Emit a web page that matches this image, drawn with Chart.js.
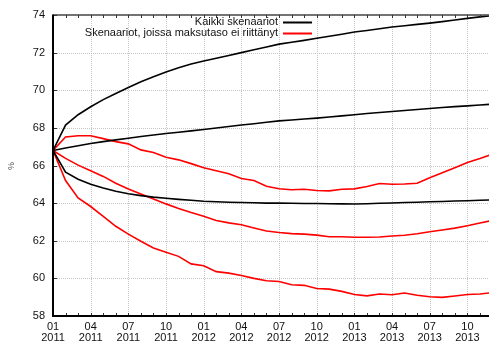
<!DOCTYPE html>
<html>
<head>
<meta charset="utf-8">
<script src="https://cdn.jsdelivr.net/npm/chart.js@4.4.1/dist/chart.umd.min.js"></script>
<style>
  html, body { margin: 0; padding: 0; background: #fff; }
  #wrap { width: 489px; height: 345px; }
</style>
</head>
<body>
<div id="wrap"><canvas id="chart" width="489" height="345"></canvas></div>
<script>
// Monthly observation periods (index 0 = 01/2011)
const months = [
  '01/2011','02/2011','03/2011','04/2011','05/2011','06/2011','07/2011','08/2011','09/2011','10/2011','11/2011','12/2011',
  '01/2012','02/2012','03/2012','04/2012','05/2012','06/2012','07/2012','08/2012','09/2012','10/2012','11/2012','12/2012',
  '01/2013','02/2013','03/2013','04/2013','05/2013','06/2013','07/2013','08/2013','09/2013','10/2013','11/2013','12/2013'
];

// Quarterly axis labels: [month, year]
const xTickLabels = [
  ['01','2011'],['04','2011'],['07','2011'],['10','2011'],
  ['01','2012'],['04','2012'],['07','2012'],['10','2012'],
  ['01','2013'],['04','2013'],['07','2013'],['10','2013']
];
const yTickValues = [58, 60, 62, 64, 66, 68, 70, 72, 74];

const seriesNames = ['Kaikki skenaariot', 'Skenaariot, joissa maksutaso ei riittänyt'];

// All scenarios (black)
const allHigh = [66.8,68.15,68.7,69.12,69.5,69.83,70.15,70.45,70.72,70.97,71.2,71.4,
  71.55,71.7,71.85,72.0,72.15,72.3,72.45,72.55,72.65,72.76,72.87,72.98,
  73.1,73.18,73.27,73.36,73.43,73.5,73.57,73.65,73.73,73.82,73.9,73.97];
const allMid = [66.8,66.93,67.05,67.17,67.27,67.36,67.45,67.54,67.62,67.7,67.77,67.84,
  67.91,67.99,68.07,68.15,68.22,68.3,68.37,68.42,68.47,68.52,68.58,68.64,
  68.7,68.76,68.82,68.87,68.92,68.98,69.03,69.08,69.13,69.17,69.22,69.26];
const allLow = [66.8,65.65,65.27,65.0,64.8,64.63,64.5,64.4,64.32,64.26,64.2,64.15,
  64.1,64.07,64.05,64.03,64.02,64.0,64.0,63.99,63.98,63.98,63.97,63.96,
  63.95,63.97,63.99,64.01,64.03,64.05,64.07,64.09,64.11,64.13,64.15,64.17];

// Scenarios where the payment level was insufficient (red)
const lowHigh = [66.8,67.52,67.58,67.58,67.43,67.27,67.15,66.83,66.69,66.44,66.3,66.1,
  65.88,65.72,65.56,65.31,65.2,64.9,64.76,64.71,64.74,64.67,64.65,64.74,
  64.76,64.88,65.04,65.0,65.02,65.06,65.35,65.61,65.88,66.16,66.37,66.6];
const lowMid = [66.8,66.38,66.02,65.72,65.42,65.06,64.75,64.48,64.22,63.96,63.72,63.5,
  63.3,63.08,62.95,62.85,62.68,62.52,62.44,62.38,62.35,62.3,62.21,62.21,
  62.19,62.19,62.2,62.25,62.29,62.37,62.48,62.57,62.67,62.8,62.94,63.08];
const lowLow = [66.8,65.2,64.28,63.82,63.3,62.77,62.35,61.97,61.62,61.39,61.17,60.77,
  60.67,60.36,60.28,60.15,60.0,59.87,59.83,59.66,59.63,59.46,59.43,59.31,
  59.14,59.07,59.17,59.13,59.22,59.1,59.02,58.99,59.06,59.14,59.17,59.24];

const BLACK = '#000000';
const RED = '#ff0000';
const FONT = '"Liberation Sans", Arial, sans-serif';

const toPoints = arr => arr.map((v, i) => ({ x: i, y: v }));
const quarterIdx = xTickLabels.map((_, k) => k * 3);

function lineDs(label, arr, color) {
  return {
    label: label,
    data: toPoints(arr),
    borderColor: color,
    backgroundColor: color,
    borderWidth: 1.6,
    pointRadius: 0,
    pointHoverRadius: 0,
    tension: 0,
    fill: false
  };
}

// Frame, grid, inward tick marks, legend and axis title
const framePlugin = {
  id: 'frame',
  beforeDatasetsDraw(chart) {
    const { ctx, chartArea: a, scales: { x, y } } = chart;
    ctx.save();
    ctx.strokeStyle = '#c6c6c6';
    ctx.lineWidth = 1;
    ctx.setLineDash([1, 1]);
    quarterIdx.forEach(v => {
      if (v === 0) return;
      const px = Math.round(x.getPixelForValue(v)) + 0.5;
      ctx.beginPath(); ctx.moveTo(px, a.top); ctx.lineTo(px, a.bottom); ctx.stroke();
    });
    yTickValues.forEach(v => {
      if (v === 58 || v === 74) return;
      const py = Math.round(y.getPixelForValue(v)) + 0.5;
      ctx.beginPath(); ctx.moveTo(a.left, py); ctx.lineTo(a.right, py); ctx.stroke();
    });
    ctx.restore();
  },
  afterDatasetsDraw(chart) {
    const { ctx, chartArea: a, scales: { x, y } } = chart;
    ctx.save();
    ctx.setLineDash([]);
    // top border
    ctx.strokeStyle = '#444';
    ctx.lineWidth = 1.5;
    ctx.beginPath(); ctx.moveTo(a.left, a.top); ctx.lineTo(a.right, a.top); ctx.stroke();
    // monthly tick marks on bottom and top
    ctx.lineWidth = 1;
    ctx.strokeStyle = '#333';
    for (let i = 0; i < months.length; i++) {
      const px = Math.round(x.getPixelForValue(i)) + 0.5;
      if (px > a.right) break;
      ctx.beginPath(); ctx.moveTo(px, a.bottom); ctx.lineTo(px, a.bottom - 3); ctx.stroke();
      ctx.beginPath(); ctx.moveTo(px, a.top); ctx.lineTo(px, a.top + 3); ctx.stroke();
    }
    // y tick marks
    yTickValues.forEach(v => {
      const py = Math.round(y.getPixelForValue(v)) + 0.5;
      ctx.beginPath(); ctx.moveTo(a.left, py); ctx.lineTo(a.left + 4, py); ctx.stroke();
    });
    // left and bottom axes
    ctx.strokeStyle = BLACK;
    ctx.lineWidth = 2;
    ctx.beginPath();
    ctx.moveTo(a.left, a.top - 0.5);
    ctx.lineTo(a.left, a.bottom);
    ctx.lineTo(a.right, a.bottom);
    ctx.stroke();

    // legend
    ctx.font = '11px ' + FONT;
    ctx.textAlign = 'right';
    ctx.textBaseline = 'middle';
    const entries = [
      { text: seriesNames[0], color: BLACK, y: 22 },
      { text: seriesNames[1], color: RED, y: 33 }
    ];
    entries.forEach(e => {
      ctx.fillStyle = '#111';
      ctx.fillText(e.text, 278, e.y);
      ctx.strokeStyle = e.color;
      ctx.lineWidth = 2;
      ctx.beginPath(); ctx.moveTo(283, e.y + 0.5); ctx.lineTo(312, e.y + 0.5); ctx.stroke();
    });

    // y axis title
    ctx.save();
    ctx.translate(12, 166);
    ctx.rotate(-Math.PI / 2);
    ctx.font = '9px ' + FONT;
    ctx.fillStyle = '#555';
    ctx.textAlign = 'center';
    ctx.textBaseline = 'middle';
    ctx.fillText('%', 0, 0);
    ctx.restore();
    ctx.restore();
  }
};

new Chart(document.getElementById('chart'), {
  type: 'line',
  data: {
    datasets: [
      lineDs(seriesNames[0], allHigh, BLACK),
      lineDs('', allMid, BLACK),
      lineDs('', allLow, BLACK),
      lineDs(seriesNames[1], lowHigh, RED),
      lineDs('', lowMid, RED),
      lineDs('', lowLow, RED)
    ]
  },
  options: {
    responsive: false,
    devicePixelRatio: 1,
    animation: false,
    layout: { padding: { top: 15, right: 0, left: 0, bottom: 0 } },
    plugins: { legend: { display: false }, tooltip: { enabled: false } },
    scales: {
      x: {
        type: 'linear',
        min: 0,
        max: 34.72,
        afterBuildTicks: scale => { scale.ticks = quarterIdx.map(v => ({ value: v })); },
        afterFit: scale => { scale.height = 29; },
        grid: { display: false, drawTicks: false },
        border: { display: false },
        ticks: {
          autoSkip: false,
          maxRotation: 0,
          padding: 5,
          color: '#111',
          font: { family: FONT, size: 11, lineHeight: 1.0 },
          callback: v => xTickLabels[quarterIdx.indexOf(v)] || ''
        }
      },
      y: {
        min: 58,
        max: 74,
        afterBuildTicks: scale => { scale.ticks = yTickValues.map(v => ({ value: v })); },
        afterFit: scale => { scale.width = 53; },
        grid: { display: false, drawTicks: false },
        border: { display: false },
        ticks: {
          padding: 8,
          color: '#111',
          font: { family: FONT, size: 11 }
        }
      }
    }
  },
  plugins: [framePlugin]
});
</script>
</body>
</html>
